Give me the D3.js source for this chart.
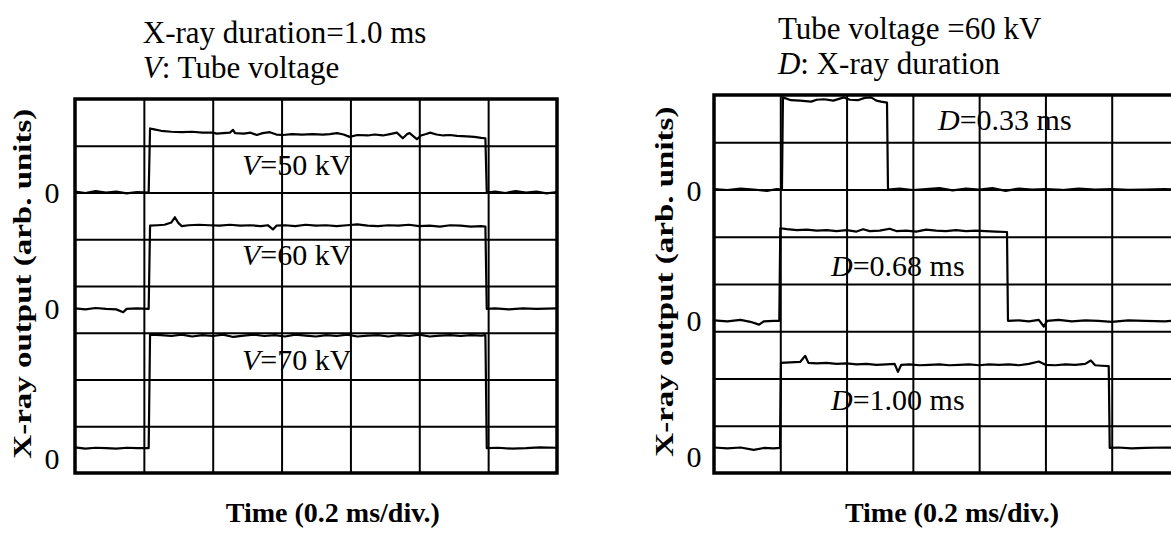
<!DOCTYPE html>
<html>
<head>
<meta charset="utf-8">
<script src="https://cdn.jsdelivr.net/npm/d3@7"></script>
<style>
  html, body { margin: 0; padding: 0; background: #fff; }
  svg { display: block; font-family: "Liberation Serif", "Times New Roman", serif; }
</style>
</head>
<body>
<script>
// time in ms (0.2 ms/div), level in screen divisions (0 = bottom, 8 = top)
const timeTicks = [0.2, 0.4, 0.6, 0.8, 1.0, 1.2];
const levelTicks = [1, 2, 3, 4, 5, 6, 7];
const zeroTickText = ["0", "0", "0"];

// left panel: X-ray duration 1.0 ms, tube voltage varied
const leftTitle = ["X-ray duration=1.0 ms", ["V", ": Tube voltage"]];
const leftNames = [["V", "=50 kV"], ["V", "=60 kV"], ["V", "=70 kV"]];
const leftNameAt = [[0.485, 6.37], [0.485, 4.45], [0.485, 2.2]];
const leftZeroAt = [6.0, 3.51, 0.32];

const v50 = [
  [0, 6.02], [0.03, 5.99], [0.06, 6.03], [0.09, 6.0], [0.12, 6.02], [0.15, 5.98], [0.18, 6.01], [0.214, 6.0],
  [0.218, 7.37], [0.23, 7.35], [0.25, 7.32], [0.28, 7.3], [0.31, 7.29], [0.34, 7.3], [0.37, 7.28], [0.4, 7.28],
  [0.412, 7.26], [0.43, 7.27], [0.45, 7.28], [0.459, 7.34], [0.465, 7.27], [0.49, 7.26], [0.51, 7.28], [0.528, 7.23],
  [0.545, 7.27], [0.566, 7.29], [0.585, 7.24], [0.604, 7.23], [0.63, 7.25], [0.66, 7.24], [0.69, 7.25], [0.72, 7.24],
  [0.74, 7.25], [0.761, 7.27], [0.78, 7.24], [0.798, 7.19], [0.82, 7.23], [0.85, 7.22], [0.87, 7.24], [0.894, 7.22],
  [0.915, 7.25], [0.935, 7.28], [0.952, 7.16], [0.965, 7.25], [0.972, 7.27], [0.985, 7.19], [0.993, 7.14], [1.005, 7.22],
  [1.02, 7.25], [1.031, 7.28], [1.05, 7.24], [1.07, 7.22], [1.089, 7.23], [1.11, 7.21], [1.138, 7.2], [1.16, 7.19],
  [1.18, 7.17], [1.192, 7.16],
  [1.196, 6.0], [1.22, 6.02], [1.25, 5.99], [1.28, 6.03], [1.31, 6.0], [1.34, 6.02], [1.37, 5.98], [1.4, 6.01]
];
const v60 = [
  [0, 3.52], [0.03, 3.5], [0.06, 3.53], [0.09, 3.51], [0.12, 3.5], [0.14, 3.44], [0.15, 3.51], [0.18, 3.52], [0.214, 3.51],
  [0.218, 5.29], [0.24, 5.3], [0.26, 5.31], [0.28, 5.36], [0.29, 5.47], [0.3, 5.35], [0.31, 5.28], [0.33, 5.3],
  [0.36, 5.31], [0.39, 5.3], [0.42, 5.29], [0.45, 5.31], [0.48, 5.29], [0.51, 5.3], [0.54, 5.28], [0.56, 5.3],
  [0.575, 5.21], [0.585, 5.29], [0.61, 5.3], [0.64, 5.28], [0.67, 5.31], [0.7, 5.29], [0.73, 5.3], [0.76, 5.28],
  [0.79, 5.3], [0.82, 5.32], [0.85, 5.29], [0.88, 5.28], [0.91, 5.3], [0.94, 5.29], [0.97, 5.31], [1.0, 5.28],
  [1.03, 5.29], [1.06, 5.27], [1.09, 5.3], [1.12, 5.29], [1.15, 5.27], [1.18, 5.28], [1.192, 5.27],
  [1.196, 3.51], [1.22, 3.52], [1.26, 3.5], [1.3, 3.52], [1.34, 3.51], [1.4, 3.52]
];
const v70 = [
  [0, 0.55], [0.03, 0.52], [0.06, 0.54], [0.09, 0.53], [0.12, 0.52], [0.15, 0.54], [0.18, 0.53], [0.214, 0.53],
  [0.218, 2.96], [0.25, 2.95], [0.28, 2.93], [0.31, 2.96], [0.34, 2.92], [0.37, 2.95], [0.4, 2.93], [0.43, 2.96],
  [0.46, 2.91], [0.49, 2.94], [0.52, 2.96], [0.55, 2.93], [0.58, 2.95], [0.61, 2.92], [0.64, 2.96], [0.67, 2.94],
  [0.7, 2.92], [0.73, 2.95], [0.76, 2.93], [0.79, 2.96], [0.82, 2.92], [0.85, 2.94], [0.88, 2.95], [0.91, 2.92],
  [0.94, 2.95], [0.97, 2.93], [1.0, 2.96], [1.03, 2.92], [1.06, 2.94], [1.09, 2.95], [1.12, 2.93], [1.15, 2.95],
  [1.18, 2.94], [1.192, 2.95],
  [1.196, 0.53], [1.23, 0.54], [1.27, 0.52], [1.31, 0.53], [1.35, 0.55], [1.4, 0.54]
];

// right panel: tube voltage 60 kV, duration varied
const rightTitle = ["Tube voltage =60 kV", ["D", ": X-ray duration"]];
const rightNames = [["D", "=0.33 ms"], ["D", "=0.68 ms"], ["D", "=1.00 ms"]];
const rightNameAt = [[0.676, 7.26], [0.353, 4.17], [0.353, 1.33]];
const rightZeroAt = [5.97, 3.22, 0.34];

const d033 = [
  [0, 6.01], [0.04, 5.99], [0.08, 6.02], [0.12, 6.0], [0.16, 5.97], [0.19, 6.01], [0.205, 6.0],
  [0.208, 7.95], [0.232, 7.89], [0.26, 7.88], [0.293, 7.86], [0.31, 7.9], [0.332, 7.91], [0.36, 7.88], [0.392, 7.95],
  [0.41, 7.9], [0.434, 7.89], [0.455, 7.94], [0.474, 7.95], [0.49, 7.88], [0.504, 7.86], [0.522, 7.84],
  [0.525, 6.0], [0.56, 6.02], [0.6, 5.99], [0.64, 6.01], [0.68, 6.03], [0.72, 5.98], [0.76, 6.02], [0.8, 6.0],
  [0.84, 6.03], [0.88, 5.97], [0.92, 6.02], [0.96, 6.0], [1.0, 6.01], [1.05, 5.99], [1.1, 6.02], [1.15, 6.0],
  [1.2, 6.01], [1.25, 5.99], [1.3, 6.0], [1.36, 6.01], [1.4, 6.0]
];
const d068 = [
  [0, 3.23], [0.04, 3.21], [0.08, 3.24], [0.11, 3.2], [0.136, 3.14], [0.15, 3.21], [0.18, 3.22], [0.197, 3.22],
  [0.2, 5.18], [0.22, 5.16], [0.25, 5.14], [0.28, 5.15], [0.31, 5.13], [0.34, 5.14], [0.37, 5.12], [0.4, 5.14],
  [0.43, 5.11], [0.45, 5.16], [0.47, 5.12], [0.5, 5.13], [0.53, 5.17], [0.55, 5.12], [0.58, 5.13], [0.61, 5.11],
  [0.64, 5.15], [0.67, 5.13], [0.7, 5.12], [0.73, 5.14], [0.76, 5.12], [0.79, 5.13], [0.82, 5.12], [0.85, 5.11],
  [0.884, 5.1],
  [0.887, 3.22], [0.92, 3.23], [0.95, 3.21], [0.98, 3.24], [0.995, 3.1], [1.005, 3.22], [1.04, 3.24], [1.08, 3.21],
  [1.12, 3.23], [1.16, 3.22], [1.2, 3.2], [1.25, 3.23], [1.3, 3.22], [1.36, 3.21], [1.4, 3.23]
];
const d100 = [
  [0, 0.54], [0.04, 0.52], [0.08, 0.54], [0.12, 0.49], [0.15, 0.53], [0.18, 0.52], [0.199, 0.53],
  [0.202, 2.33], [0.23, 2.34], [0.26, 2.35], [0.275, 2.48], [0.285, 2.33], [0.31, 2.32], [0.34, 2.33], [0.37, 2.31],
  [0.4, 2.32], [0.43, 2.3], [0.46, 2.31], [0.49, 2.29], [0.52, 2.3], [0.545, 2.31], [0.555, 2.14], [0.565, 2.29],
  [0.59, 2.3], [0.62, 2.28], [0.65, 2.29], [0.68, 2.3], [0.71, 2.28], [0.74, 2.29], [0.77, 2.3], [0.8, 2.28],
  [0.83, 2.3], [0.86, 2.29], [0.89, 2.3], [0.92, 2.28], [0.95, 2.31], [0.98, 2.36], [1.0, 2.29], [1.03, 2.28],
  [1.06, 2.3], [1.09, 2.29], [1.12, 2.31], [1.137, 2.38], [1.15, 2.28], [1.17, 2.27], [1.191, 2.26],
  [1.194, 0.53], [1.22, 0.54], [1.26, 0.52], [1.3, 0.53], [1.36, 0.54], [1.4, 0.53]
];

const axisTitleY = "X-ray output (arb. units)";
const axisTitleX = "Time (0.2 ms/div.)";

const svg = d3.select("body").append("svg").attr("width", 1171).attr("height", 534);

function drawPanel(p) {
  const g = svg.append("g").attr("transform", `translate(${p.left},${p.top})`);
  const x = d3.scaleLinear().domain([0, 1.4]).range([0, p.width]);
  const y = d3.scaleLinear().domain([0, 8]).range([p.height, 0]);

  // graticule
  const gx = g.append("g")
    .attr("transform", `translate(0,${p.height})`)
    .call(d3.axisBottom(x).tickValues(timeTicks).tickSize(-p.height).tickFormat(""));
  const gy = g.append("g")
    .call(d3.axisLeft(y).tickValues(levelTicks).tickSize(-p.width).tickFormat(""));
  for (const a of [gx, gy]) {
    a.select(".domain").remove();
    a.selectAll("line").attr("stroke", "#000").attr("stroke-width", 2);
  }

  const line = d3.line().x((d) => x(d[0])).y((d) => y(d[1]));
  g.selectAll("path.trace")
    .data(p.traces)
    .join("path")
    .attr("class", "trace")
    .attr("d", line)
    .attr("fill", "none")
    .attr("stroke", "#000")
    .attr("stroke-width", 2.2)
    .attr("stroke-linejoin", "round");

  g.append("rect")
    .attr("width", p.width)
    .attr("height", p.height)
    .attr("fill", "none")
    .attr("stroke", "#000")
    .attr("stroke-width", 3.5);

  // trace names
  const names = g.selectAll("text.name")
    .data(p.names)
    .join("text")
    .attr("class", "name")
    .attr("x", (d, i) => x(p.nameAt[i][0]))
    .attr("y", (d, i) => y(p.nameAt[i][1]))
    .attr("font-size", 30)
    .attr("fill", "#000");
  names.append("tspan").attr("font-style", "italic").text((d) => d[0]);
  names.append("tspan").text((d) => d[1]);

  // zero markers
  g.selectAll("text.zero")
    .data(zeroTickText)
    .join("text")
    .attr("class", "zero")
    .attr("x", -p.zeroOffset)
    .attr("y", (d, i) => y(p.zeroAt[i]))
    .attr("dy", "0.35em")
    .attr("text-anchor", "middle")
    .attr("font-size", 30)
    .text((d) => d);

  // panel heading
  g.append("text")
    .attr("x", x(p.titleAt))
    .attr("y", -56)
    .attr("font-size", 31)
    .text(p.title[0]);
  const t2 = g.append("text")
    .attr("x", x(p.titleAt))
    .attr("y", -21)
    .attr("font-size", 31);
  t2.append("tspan").attr("font-style", "italic").text(p.title[1][0]);
  t2.append("tspan").text(p.title[1][1]);

  g.append("text")
    .attr("x", x(p.xTitleAt))
    .attr("y", p.height + 49)
    .attr("text-anchor", "middle")
    .attr("font-size", 28)
    .attr("font-weight", "bold")
    .text(axisTitleX);

  g.append("text")
    .attr("transform", `translate(${-p.yTitleOffset},${y(4.05)}) rotate(-90)`)
    .attr("dy", "0.35em")
    .attr("text-anchor", "middle")
    .attr("font-size", 25)
    .attr("font-weight", "bold")
    .attr("textLength", 350)
    .attr("lengthAdjust", "spacingAndGlyphs")
    .text(axisTitleY);
}

drawPanel({
  left: 75, top: 99, width: 482, height: 374,
  traces: [v50, v60, v70],
  names: leftNames, nameAt: leftNameAt, zeroAt: leftZeroAt,
  title: leftTitle, titleAt: 0.197, xTitleAt: 0.749,
  zeroOffset: 23, yTitleOffset: 53
});
drawPanel({
  left: 714, top: 95, width: 464, height: 378,
  traces: [d033, d068, d100],
  names: rightNames, nameAt: rightNameAt, zeroAt: rightZeroAt,
  title: rightTitle, titleAt: 0.193, xTitleAt: 0.718,
  zeroOffset: 20, yTitleOffset: 50
});
</script>
</body>
</html>
